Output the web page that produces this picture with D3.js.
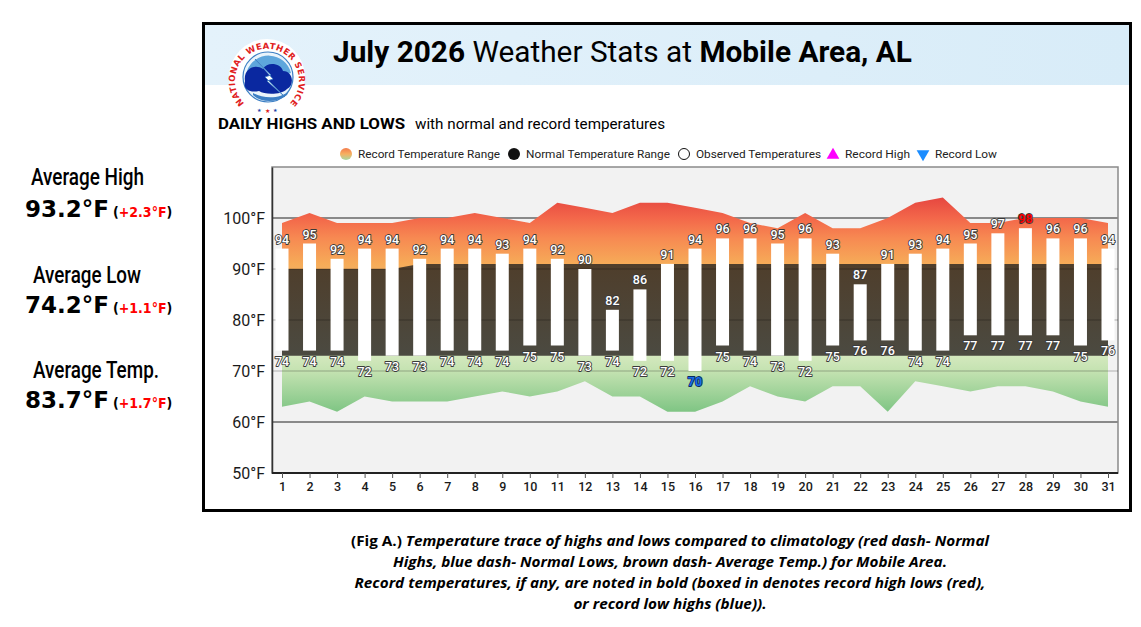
<!DOCTYPE html>
<head>
  <meta charset="utf-8">
  <script src="https://d3js.org/d3.v7.min.js"></script>
  <style>
    body { margin:0; background:#fff; }
    svg { display:block; }
  </style>
</head>

<body>
  <script>
    // ---- data ----
    var days = [1,2,3,4,5,6,7,8,9,10,11,12,13,14,15,16,17,18,19,20,21,22,23,24,25,26,27,28,29,30,31];
    var highs = [94,95,92,94,94,92,94,94,93,94,92,90,82,86,91,94,96,96,95,96,93,87,91,93,94,95,97,98,96,96,94];
    var lows  = [74,74,74,72,73,73,74,74,74,75,75,73,74,72,72,70,75,74,73,72,75,76,76,74,74,77,77,77,77,75,76];
    var normalHighs = [90,90,90,90,90,91,91,91,91,91,91,91,91,91,91,91,91,91,91,91,91,91,91,91,91,91,91,91,91,91,91];
    var normalLows  = [73,73,73,73,73,73,73,73,73,73,73,73,73,73,73,73,73,73,73,73,73,73,73,73,73,73,73,73,73,73,73];
    var recordHighs = [99,101,99,99,99,100,100,101,100,99,103,102,101,103,103,102,101,99,98,101,98,98,100,103,104,99,99,100,100,100,99];
    var recordLows  = [63,64,62,65,64,64,64,65,66,65,66,68,65,65,62,62,64,67,65,64,67,67,62,68,67,66,67,67,66,64,63];
    var redHighDays = [28];
    var blueLowDays = [16];
    var yTicks = [50,60,70,80,90,100];

    var stats = [
      { label: "Average High",  value: "93.2°F", dep: "+2.3°F" },
      { label: "Average Low",   value: "74.2°F", dep: "+1.1°F" },
      { label: "Average Temp.", value: "83.7°F", dep: "+1.7°F" }
    ];
    var legendItems = ["Record Temperature Range", "Normal Temperature Range", "Observed Temperatures", "Record High", "Record Low"];
    var caption = [
      ["(Fig A.) ", "Temperature trace of highs and lows compared to climatology (red dash- Normal"],
      ["", "Highs, blue dash- Normal Lows, brown dash- Average Temp.) for Mobile Area."],
      ["", "Record temperatures, if any, are noted in bold (boxed in denotes record high lows (red),"],
      ["", "or record low highs (blue))."]
    ];

    var width = 1141, height = 627;
    var rows = days.map(function(d, i) {
      return { day: d, hi: highs[i], lo: lows[i], nHi: normalHighs[i], nLo: normalLows[i], rHi: recordHighs[i], rLo: recordLows[i] };
    });

    var svg = d3.select("body").append("svg")
      .attr("width", width)
      .attr("height", height);
    var defs = svg.append("defs");

    var plot = { left: 272, right: 1118, top: 167, bottom: 473 };
    var x = d3.scaleLinear().domain([1, 31]).range([282, 1108]);
    var y = d3.scaleLinear().domain([50, 110]).range([plot.bottom, plot.top]);

    // ---- frame + header ----
    var hg = defs.append("linearGradient").attr("id", "hdr");
    hg.append("stop").attr("offset", "0").attr("stop-color", "#e4f2fb");
    hg.append("stop").attr("offset", "1").attr("stop-color", "#d8ecf8");
    svg.append("rect").attr("x", 205).attr("y", 25).attr("width", 924).attr("height", 60).attr("fill", "url(#hdr)");
    svg.append("rect").attr("x", 203.5).attr("y", 23.5).attr("width", 927).attr("height", 487)
      .attr("fill", "none").attr("stroke", "#000").attr("stroke-width", 3);

    // NWS logo (simplified)
    var logo = svg.append("g").attr("transform", "translate(267,77)");
    logo.append("circle").attr("r", 38).attr("fill", "#fff");
    defs.append("path").attr("id", "logoArc").attr("d", "M -23,26 A 32,32 0 1,1 23,26");
    logo.append("text").attr("font-family", "DejaVu Sans, sans-serif").attr("font-weight", "bold")
      .attr("font-size", 8.5).attr("fill", "#e0201c")
      .append("textPath").attr("href", "#logoArc").attr("startOffset", "50%").attr("text-anchor", "middle")
      .attr("textLength", 150).attr("lengthAdjust", "spacing")
      .text("NATIONAL WEATHER SERVICE");
    logo.append("text").attr("y", 36).attr("text-anchor", "middle").attr("font-size", 6).attr("fill", "#e0201c").text("★");
    logo.append("text").attr("x", -8).attr("y", 35).attr("text-anchor", "middle").attr("font-size", 5).attr("fill", "#1d3fa8").text("★");
    logo.append("text").attr("x", 8).attr("y", 35).attr("text-anchor", "middle").attr("font-size", 5).attr("fill", "#1d3fa8").text("★");
    logo.append("circle").attr("cx", 1).attr("r", 25).attr("fill", "#eaf4fb").attr("stroke", "#3c7fc4").attr("stroke-width", 1.2);
    logo.append("path").attr("d", "M -20,-6 A 23,23 0 0,1 24,-4 L 2,2 Z").attr("fill", "#5ea6dc");
    logo.append("path")
      .attr("d", "M -22,4 C -24,-8 -12,-14 -4,-8 C 0,-16 14,-14 16,-6 C 26,-6 28,8 20,12 C 14,18 -2,18 -8,14 C -18,16 -24,12 -22,4 Z")
      .attr("fill", "#0a28a0");
    logo.append("path").attr("d", "M -14,16 C -4,22 14,22 22,14 L 20,18 C 10,26 -6,26 -14,18 Z").attr("fill", "#3c7fc4");
    logo.append("path").attr("d", "M -12,-18 L 4,-2 L -2,0 L 18,20 L 0,4 L 6,2 Z")
      .attr("fill", "#fff").attr("stroke", "#3c7fc4").attr("stroke-width", 0.8);

    // title
    var title = svg.append("text").attr("x", 333).attr("y", 62)
      .attr("font-family", "Roboto, sans-serif").attr("font-size", 30).attr("fill", "#000")
      .attr("textLength", 579).attr("lengthAdjust", "spacingAndGlyphs");
    title.append("tspan").attr("font-weight", "bold").text("July 2026");
    title.append("tspan").text(" Weather Stats at ");
    title.append("tspan").attr("font-weight", "bold").text("Mobile Area, AL");

    svg.append("text").attr("x", 218).attr("y", 129)
      .attr("font-family", "Roboto, sans-serif").attr("font-weight", "bold").attr("font-size", 15)
      .attr("textLength", 187).attr("lengthAdjust", "spacingAndGlyphs").text("DAILY HIGHS AND LOWS");
    svg.append("text").attr("x", 415).attr("y", 129)
      .attr("font-family", "Roboto, sans-serif").attr("font-size", 14)
      .attr("textLength", 250).attr("lengthAdjust", "spacingAndGlyphs").text("with normal and record temperatures");

    // ---- legend ----
    var lg = defs.append("linearGradient").attr("id", "legRec").attr("x1", 0).attr("y1", 0).attr("x2", 0).attr("y2", 1);
    lg.append("stop").attr("offset", "0").attr("stop-color", "#f47c4c");
    lg.append("stop").attr("offset", "0.5").attr("stop-color", "#f6b060");
    lg.append("stop").attr("offset", "1").attr("stop-color", "#a9d9a2");
    var legX = [346, 514, 684, 833, 923];
    var legW = [142, 144, 125, 65, 62];
    var legend = svg.append("g").attr("font-family", "Roboto, sans-serif").attr("font-size", 11.5).attr("fill", "#222");
    legend.append("circle").attr("cx", legX[0]).attr("cy", 154).attr("r", 6).attr("fill", "url(#legRec)");
    legend.append("circle").attr("cx", legX[1]).attr("cy", 154).attr("r", 6).attr("fill", "#111");
    legend.append("circle").attr("cx", legX[2]).attr("cy", 154).attr("r", 5.5).attr("fill", "#fff").attr("stroke", "#111").attr("stroke-width", 1);
    legend.append("path").attr("d", d3.symbol(d3.symbolTriangle, 70)()).attr("transform", "translate(" + legX[3] + ",155)").attr("fill", "#ff00ff");
    legend.append("path").attr("d", d3.symbol(d3.symbolTriangle, 70)()).attr("transform", "translate(" + legX[4] + ",154) rotate(180)").attr("fill", "#1a8cff");
    legend.selectAll("text.leg").data(legendItems).enter().append("text")
      .attr("class", "leg")
      .attr("x", function(d, i) { return legX[i] + 12; })
      .attr("y", 158)
      .attr("textLength", function(d, i) { return legW[i]; })
      .attr("lengthAdjust", "spacingAndGlyphs")
      .text(function(d) { return d; });

    // ---- plot ----
    svg.append("rect").attr("x", plot.left).attr("y", plot.top)
      .attr("width", plot.right - plot.left).attr("height", plot.bottom - plot.top)
      .attr("fill", "#f2f2f2").attr("stroke", "#8a8a8a").attr("stroke-width", 1.5);

    svg.append("g").selectAll("line").data([60, 100]).enter().append("line")
      .attr("x1", plot.left).attr("x2", plot.right)
      .attr("y1", function(d) { return y(d); }).attr("y2", function(d) { return y(d); })
      .attr("stroke", "#8a8a8a").attr("stroke-width", 2);

    var rg = defs.append("linearGradient").attr("id", "recGrad").attr("gradientUnits", "userSpaceOnUse")
      .attr("x1", 0).attr("x2", 0).attr("y1", y(105)).attr("y2", y(61));
    [[0, "#e33f3e"], [0.114, "#f3674a"], [0.205, "#f78a52"], [0.318, "#f6ab58"],
     [0.727, "#d4e9be"], [0.795, "#c4e2b1"], [0.977, "#7fc584"]].forEach(function(s) {
      rg.append("stop").attr("offset", s[0]).attr("stop-color", s[1]);
    });
    var ng = defs.append("linearGradient").attr("id", "nrmGrad").attr("x1", 0).attr("y1", 0).attr("x2", 0).attr("y2", 1);
    ng.append("stop").attr("offset", "0").attr("stop-color", "#4f3e2b");
    ng.append("stop").attr("offset", "1").attr("stop-color", "#4b4a41");

    var recArea = d3.area()
      .x(function(d) { return x(d.day); })
      .y0(function(d) { return y(d.rLo); })
      .y1(function(d) { return y(d.rHi); });
    var nrmArea = d3.area()
      .x(function(d) { return x(d.day); })
      .y0(function(d) { return y(d.nLo); })
      .y1(function(d) { return y(d.nHi); });

    svg.append("path").datum(rows).attr("d", recArea).attr("fill", "url(#recGrad)");
    svg.append("path").datum(rows).attr("d", nrmArea).attr("fill", "url(#nrmGrad)");

    svg.append("g").selectAll("line").data([70, 80, 90]).enter().append("line")
      .attr("x1", plot.left).attr("x2", plot.right)
      .attr("y1", function(d) { return y(d); }).attr("y2", function(d) { return y(d); })
      .attr("stroke", "#000").attr("stroke-opacity", 0.18).attr("stroke-width", 1.5);

    // observed bars
    svg.append("g").selectAll("rect").data(rows).enter().append("rect")
      .attr("x", function(d) { return x(d.day) - 6.5; })
      .attr("width", 13)
      .attr("y", function(d) { return y(d.hi); })
      .attr("height", function(d) { return y(d.lo) - y(d.hi); })
      .attr("fill", "#fff");

    var labels = svg.append("g")
      .attr("font-family", "Roboto, sans-serif").attr("font-weight", 500).attr("font-size", 12.5)
      .attr("text-anchor", "middle").attr("stroke", "#3a3a3a").attr("stroke-width", 1.8)
      .attr("paint-order", "stroke").attr("stroke-linejoin", "round");
    labels.selectAll("text.hi").data(rows).enter().append("text")
      .attr("class", "hi")
      .attr("x", function(d) { return x(d.day); })
      .attr("y", function(d) { return y(d.hi) - 5; })
      .attr("fill", function(d) { return redHighDays.indexOf(d.day) >= 0 ? "#ff0000" : "#fff"; })
      .attr("font-weight", function(d) { return redHighDays.indexOf(d.day) >= 0 ? "bold" : null; })
      .text(function(d) { return d.hi; });
    labels.selectAll("text.lo").data(rows).enter().append("text")
      .attr("class", "lo")
      .attr("x", function(d) { return x(d.day); })
      .attr("y", function(d) { return y(d.lo) + 15; })
      .attr("fill", function(d) { return blueLowDays.indexOf(d.day) >= 0 ? "#1a6ee8" : "#fff"; })
      .attr("stroke", function(d) { return blueLowDays.indexOf(d.day) >= 0 ? "#0a2a60" : null; })
      .attr("font-weight", function(d) { return blueLowDays.indexOf(d.day) >= 0 ? "bold" : null; })
      .text(function(d) { return d.lo; });

    // axes
    var yAxis = svg.append("g").attr("transform", "translate(" + plot.left + ",0)")
      .call(d3.axisLeft(y).tickValues(yTicks).tickSize(0).tickPadding(7).tickFormat(function(d) { return d + "°F"; }));
    yAxis.select(".domain").attr("stroke", "#333").attr("stroke-width", 1.5);
    yAxis.selectAll("text").attr("font-family", "Roboto, sans-serif").attr("font-size", 16).attr("fill", "#1a1a1a");

    var xAxis = svg.append("g").attr("transform", "translate(0," + plot.bottom + ")")
      .call(d3.axisBottom(x).tickValues(days).tickSize(5).tickSizeOuter(0).tickPadding(4).tickFormat(d3.format("d")));
    xAxis.select(".domain").attr("d", "M" + plot.left + ",0H" + plot.right).attr("stroke", "#222").attr("stroke-width", 2);
    xAxis.selectAll(".tick line").attr("stroke", "#555");
    xAxis.selectAll("text").attr("font-family", "Roboto, sans-serif").attr("font-weight", 500).attr("font-size", 12.5).attr("fill", "#1a1a1a");

    // ---- left stats ----
    var statY = [[185, 217], [283, 313], [378, 408]];
    var statLabelX = [[31, 113], [33, 108], [33, 126]];
    var side = svg.append("g");
    stats.forEach(function(s, i) {
      side.append("text").attr("x", statLabelX[i][0]).attr("y", statY[i][0])
        .attr("font-family", "Roboto, sans-serif").attr("font-weight", 500).attr("font-size", 23)
        .attr("textLength", statLabelX[i][1]).attr("lengthAdjust", "spacingAndGlyphs")
        .text(s.label);
      side.append("text").attr("x", 25).attr("y", statY[i][1])
        .attr("font-family", "DejaVu Sans, sans-serif").attr("font-weight", "bold").attr("font-size", 23)
        .text(s.value);
      var dep = side.append("text").attr("x", 113).attr("y", statY[i][1])
        .attr("font-family", "DejaVu Sans Condensed, DejaVu Sans, sans-serif").attr("font-weight", "bold").attr("font-size", 14);
      dep.append("tspan").attr("fill", "#000").text("(");
      dep.append("tspan").attr("fill", "#ff0000").text(s.dep);
      dep.append("tspan").attr("fill", "#000").text(")");
    });

    // ---- caption: one horizontal squeeze for all lines, set by the first line ----
    var capY = [546, 567, 588, 609];
    var capLines = caption.map(function(c, i) {
      var g = svg.append("g");
      var t = g.append("text").attr("text-anchor", "middle")
        .attr("font-family", "Open Sans, sans-serif").attr("font-weight", 700).attr("font-size", 15).attr("fill", "#000");
      if (c[0]) t.append("tspan").text(c[0]);
      t.append("tspan").attr("font-style", "italic").text(c[1]);
      return { g: g, t: t };
    });
    var k = 639 / capLines[0].t.node().getComputedTextLength();
    capLines.forEach(function(c, i) {
      c.g.attr("transform", "translate(670," + capY[i] + ") scale(" + k + ",1)");
    });
  </script>
</body>
